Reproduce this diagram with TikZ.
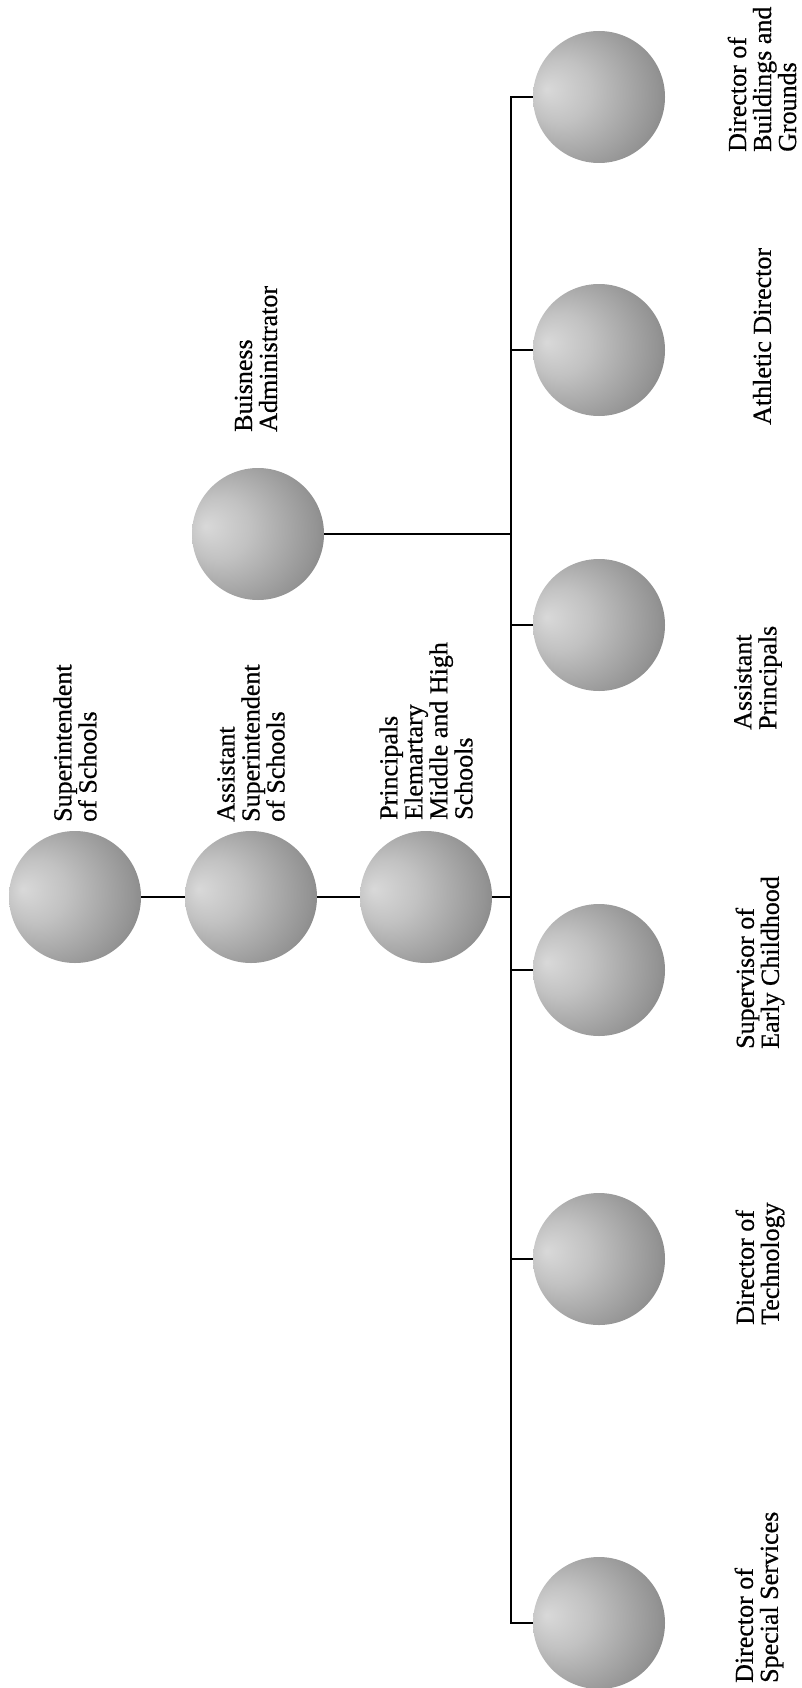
\documentclass[tikz,border=0pt]{standalone}
\usepackage{fontspec}
\setmainfont{Liberation Serif}[FakeBold=0.6]
\pgfdeclareradialshading{sphere}{\pgfpoint{-20bp}{3bp}}{color(0bp)=(black!15); color(12bp)=(black!24); color(30bp)=(black!42); color(44bp)=(black!60); color(50bp)=(black!55)}
\begin{document}
\begin{tikzpicture}[x=1pt,y=-1pt,
  orb/.style={circle, minimum size=132pt, inner sep=0pt, shade, shading=sphere},
  lbl/.style={rotate=90, anchor=west, align=left, inner sep=0pt, font=\fontsize{26}{25}\selectfont},
  link/.style={line width=1.5pt, black}]
\useasboundingbox[fill=white] (0,0) rectangle (802,1688);
% circles
\node[orb] (sup)  at (75,897) {};
\node[orb] (asup) at (251,897) {};
\node[orb] (prin) at (426,897) {};
\node[orb] (busa) at (258,534) {};
\node[orb] (bg)   at (599,97) {};
\node[orb] (ath)  at (599,350) {};
\node[orb] (ap)   at (599,625) {};
\node[orb] (ec)   at (599,970) {};
\node[orb] (tech) at (599,1259) {};
\node[orb] (ss)   at (599,1623) {};
% bus
\coordinate (btop) at (511,97);
\coordinate (bbot) at (511,1623);
\draw[link] (bg.west) -- (btop) -- (bbot) -- (ss.west);
\draw[link] (sup) -- (asup);
\draw[link] (asup) -- (prin);
\draw[link] (prin.east) -- (prin.east -| btop);
\draw[link] (busa.east) -- (busa.east -| btop);
\draw[link] (ath.west -| btop) -- (ath.west);
\draw[link] (ap.west -| btop) -- (ap.west);
\draw[link] (ec.west -| btop) -- (ec.west);
\draw[link] (tech.west -| btop) -- (tech.west);
% labels
\node[lbl] (tsup)  at (75,822)   {Superintendent\\of Schools};
\node[lbl] (tasup) at (251,822)  {Assistant\\Superintendent\\of Schools};
\node[lbl] (tprin) at (426,820)  {Principals\\Elemartary\\Middle and High\\Schools};
\node[lbl] (tbusa) at (256,432)  {Buisness\\Administrator};
\node[lbl] (tbg)   at (762,152)  {Director of\\Buildings and\\Grounds};
\node[lbl] (tath)  at (762,425)  {Athletic Director};
\node[lbl] (tap)   at (758,730)  {Assistant\\Principals};
\node[lbl] (tec)   at (760,1049) {Supervisor of\\Early Childhood};
\node[lbl] (ttech) at (760,1325) {Director of\\Technology};
\node[lbl] (tss)   at (759,1683) {Director of\\Special Services};
\end{tikzpicture}
\end{document}
